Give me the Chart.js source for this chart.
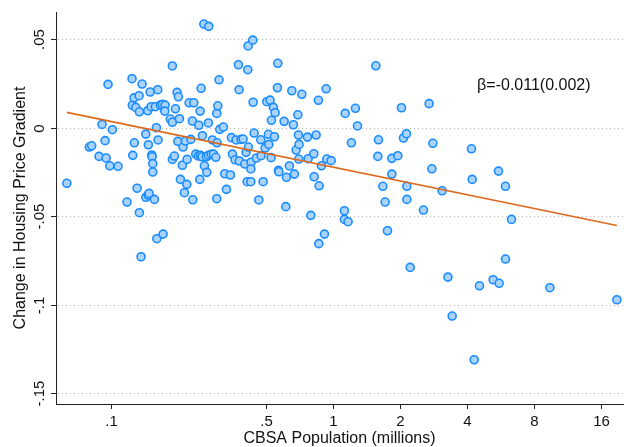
<!DOCTYPE html>
<html>
<head>
<meta charset="utf-8">
<script src="https://cdn.jsdelivr.net/npm/chart.js@4.4.1/dist/chart.umd.min.js"></script>
<style>
    html, body { margin: 0; padding: 0; background: #fff; overflow: hidden; }
    #wrap { width: 624px; height: 447px; }
</style>
</head>
<body>
<div id="wrap"><canvas id="gradient-chart" width="624" height="447"></canvas></div>
<script>
// CBSA population (millions) and change in housing price gradient, one entry per CBSA
const popMillions = [0.0632, 0.0798, 0.0818, 0.0883, 0.0911, 0.0940, 0.0950, 0.0969, 0.0987, 0.1014,
    0.1075, 0.1180, 0.1243, 0.1247, 0.1252, 0.1269, 0.1273, 0.1292, 0.1310, 0.1337,
    0.1341, 0.1341, 0.1379, 0.1433, 0.1433, 0.1468, 0.1483, 0.1567, 0.1463, 0.1472,
    0.1499, 0.1514, 0.1525, 0.1530, 0.1541, 0.1541, 0.1583, 0.1600, 0.1623, 0.1628,
    0.1668, 0.1703, 0.1751, 0.1745, 0.1849, 0.1888, 0.1888, 0.1888, 0.1928, 0.1949,
    0.1983, 0.2010, 0.1998, 0.2031, 0.2052, 0.2095, 0.2110, 0.2139, 0.2161, 0.2193,
    0.2200, 0.2246, 0.2358, 0.2286, 0.2324, 0.2333, 0.2407, 0.2483, 0.2509, 0.2518,
    0.2544, 0.2472, 0.2526, 0.2570, 0.2578, 0.2632, 0.2616, 0.2755, 0.2687, 0.2743,
    0.2822, 0.2890, 0.2963, 0.2698, 0.2743, 0.2860, 0.2993, 0.2993, 0.3002, 0.3024,
    0.3065, 0.3087, 0.3205, 0.3252, 0.3447, 0.3307, 0.3483, 0.3519, 0.3619, 0.3783,
    0.3657, 0.3745, 0.3772, 0.3851, 0.3932, 0.4002, 0.4055, 0.4099, 0.4259, 0.4128,
    0.4141, 0.4347, 0.4154, 0.4271, 0.4259, 0.4362, 0.4407, 0.4513, 0.4626, 0.4723,
    0.4739, 0.4838, 0.4939, 0.5027, 0.5201, 0.5111, 0.5133, 0.5256, 0.5383, 0.5479,
    0.5273, 0.5440, 0.5636, 0.5612, 0.5671, 0.5695, 0.6017, 0.6123, 0.6161, 0.6355,
    0.6516, 0.6625, 0.6694, 0.6813, 0.6934, 0.6977, 0.7027, 0.7005, 0.7228, 0.7661,
    0.7718, 0.7934, 0.8187, 0.8211, 0.8384, 0.8585, 0.8648,
    0.1365, 0.1607, 0.1715, 0.8620, 0.9138, 1.757, 2.223, 3.287, 3.436, 4.317,
    4.560, 5.256, 5.594, 5.972, 9.465, 18.96,
    1.557, 0.9300, 1.133, 1.260, 1.287, 2.031, 2.706, 0.9368, 0.9795, 0.8857,
    1.124, 1.124, 1.168, 1.209, 1.600, 1.590, 1.838, 1.956, 2.074, 2.139,
    1.838, 1.675, 2.148, 1.715, 2.148, 2.551, 2.813, 2.784, 3.097, 4.198,
    4.228, 5.554, 5.972, 6.357];

const gradientChange = [-0.0314, -0.0109, -0.0102, -0.0162, 0.0019, -0.0073, -0.0171, 0.0245, -0.0215, -0.0011,
    -0.0218, -0.0420, 0.0277, 0.0127, -0.0156, 0.0169, -0.0085, 0.0115, -0.0342, 0.0181,
    0.0090, -0.0480, 0.0247, -0.0036, -0.0393, -0.0380, -0.0371, -0.0405, 0.0096, -0.0096,
    0.0202, 0.0119, -0.0154, -0.0164, -0.0203, -0.0250, 0.0119, 0.0000, 0.0215, -0.0069,
    0.0128, 0.0132, 0.0128, 0.0094, 0.0049, 0.0349, 0.0031, -0.0179, -0.0160, 0.0107,
    0.0200, 0.0175, -0.0077, 0.0051, -0.0292, -0.0212, -0.0109, -0.0367, -0.0075, -0.0320,
    -0.0179, 0.0141, 0.0141, -0.0066, 0.0038, -0.0407, -0.0149, 0.0014, -0.0292, 0.0094,
    0.0223, -0.0160, -0.0156, -0.0164, -0.0045, -0.0215, 0.0586, 0.0573, -0.0164, -0.0156,
    -0.0150, -0.0149, -0.0167, -0.0252, 0.0027, -0.0069, -0.0401, 0.0081, -0.0085, 0.0124,
    0.0271, -0.0009, 0.0004, -0.0260, -0.0267, -0.0348, -0.0056, -0.0149, -0.0181, -0.0188,
    -0.0069, 0.0356, 0.0215, -0.0066, -0.0064, -0.0205, -0.0139, -0.0305, -0.0305, 0.0328,
    0.0462, 0.0495, -0.0109, -0.0195, -0.0233, 0.0144, -0.0030, -0.0171, -0.0408, -0.0068,
    -0.0158, -0.0305, -0.0115, 0.0147, 0.0156, -0.0037, -0.0094, -0.0169, 0.0115, 0.0085,
    0.0042, -0.0051, 0.0364, 0.0226, -0.0241, -0.0249, 0.0036, -0.0446, -0.0280, -0.0216,
    0.0209, 0.0017, -0.0262, -0.0126, 0.0073, -0.0041, -0.0094, -0.0177, 0.0189, -0.0053,
    -0.0175, -0.0495, -0.0147, -0.0277, -0.0041, 0.0155, -0.0328,
    -0.0729, -0.0627, -0.0601, -0.0655, -0.0601, -0.0582, -0.0789, -0.0844, -0.1064, -0.1311,
    -0.0893, -0.0859, -0.0879, -0.0742, -0.0904, -0.0972,
    0.0350, 0.0220, 0.0081, 0.0110, 0.0010, 0.0113, 0.0136, -0.0177, -0.0186, -0.0215,
    -0.0469, -0.0518, -0.0531, -0.0085, -0.0068, -0.0162, -0.0173, -0.0158, -0.0058, -0.0034,
    -0.0262, -0.0331, -0.0331, -0.0420, -0.0405, -0.0465, -0.0088, -0.0232, -0.0356, -0.0119,
    -0.0292, -0.0245, -0.0331, -0.0518];

// linear fit (on log population), endpoints
const fitPop = [0.0632, 18.96];
const fitChange = [0.0087, -0.0552];

const xTicks = [0.1, 0.5, 1, 2, 4, 8, 16];
const xTickLabels = ['.1', '.5', '1', '2', '4', '8', '16'];
const yTicks = [0.05, 0, -0.05, -0.1, -0.15];
const yTickLabels = ['.05', '0', '-.05', '-.1', '-.15'];

const betaText = 'β=-0.011(0.002)';
const betaPos = [4.45, 0.024];

const FONT = '"Liberation Sans", Arial, Helvetica, sans-serif';

// Stata-like axes: rotated y labels, outside ticks, dotted grid
const stataAxes = {
    id: 'stataAxes',
    beforeDatasetsDraw(chart) {
        const { ctx, chartArea: a, scales: { y } } = chart;
        ctx.save();
        ctx.strokeStyle = '#b4b4b4';
        ctx.lineWidth = 1;
        ctx.setLineDash([1, 3]);
        yTicks.forEach(v => {
            const py = Math.round(y.getPixelForValue(v)) + 0.5;
            ctx.beginPath();
            ctx.moveTo(a.left + 2, py);
            ctx.lineTo(a.right, py);
            ctx.stroke();
        });
        ctx.restore();
    },
    afterDraw(chart) {
        const { ctx, chartArea: a, scales: { x, y } } = chart;
        ctx.save();
        ctx.strokeStyle = '#222';
        ctx.lineWidth = 1;
        ctx.fillStyle = '#111';

        // y ticks + labels
        ctx.font = '15px ' + FONT;
        yTicks.forEach((v, i) => {
            const py = Math.round(y.getPixelForValue(v)) + 0.5;
            ctx.beginPath();
            ctx.moveTo(a.left - 5, py);
            ctx.lineTo(a.left, py);
            ctx.stroke();
            ctx.save();
            ctx.translate(a.left - 12, py);
            ctx.rotate(-Math.PI / 2);
            ctx.textAlign = 'center';
            ctx.textBaseline = 'alphabetic';
            ctx.fillText(yTickLabels[i], 0, 0);
            ctx.restore();
        });

        // x ticks + labels
        xTicks.forEach((v, i) => {
            const px = Math.round(x.getPixelForValue(v)) + 0.5;
            ctx.beginPath();
            ctx.moveTo(px, a.bottom);
            ctx.lineTo(px, a.bottom + 5);
            ctx.stroke();
            ctx.textAlign = 'center';
            ctx.textBaseline = 'alphabetic';
            ctx.fillText(xTickLabels[i], px, a.bottom + 22);
        });

        // axis titles
        ctx.font = '16px ' + FONT;
        ctx.textAlign = 'center';
        ctx.fillText('CBSA Population (millions)', (a.left + a.right) / 2, 443);
        ctx.save();
        ctx.translate(25, (a.top + a.bottom) / 2);
        ctx.rotate(-Math.PI / 2);
        ctx.fillText('Change in Housing Price Gradient', 0, 0);
        ctx.restore();

        // coefficient note
        ctx.textAlign = 'left';
        ctx.textBaseline = 'middle';
        ctx.fillText(betaText, x.getPixelForValue(betaPos[0]), y.getPixelForValue(betaPos[1]));
        ctx.restore();
    }
};

const points = popMillions.map((p, i) => ({ x: p, y: gradientChange[i] }));
const fitLine = fitPop.map((p, i) => ({ x: p, y: fitChange[i] }));

new Chart(document.getElementById('gradient-chart'), {
    type: 'scatter',
    data: {
        datasets: [
            {
                type: 'line',
                data: fitLine,
                borderColor: '#dd6a1c',
                borderWidth: 1.6,
                pointRadius: 0,
                fill: false
            },
            {
                data: points,
                backgroundColor: '#a9d3fc',
                borderColor: '#1a8cff',
                borderWidth: 1.6,
                pointRadius: 4,
                pointHoverRadius: 4
            }
        ]
    },
    options: {
        responsive: false,
        animation: false,
        events: [],
        layout: {
            autoPadding: false,
            padding: { left: 56, top: 12, right: 1, bottom: 43 }
        },
        plugins: {
            legend: { display: false },
            tooltip: { enabled: false }
        },
        scales: {
            x: {
                type: 'logarithmic',
                min: 0.0565,
                max: 20.2,
                afterBuildTicks: s => { s.ticks = xTicks.map(v => ({ value: v })); },
                ticks: { display: false },
                grid: { display: false, drawTicks: false },
                border: { display: true, color: '#222', width: 1 },
                title: { display: false }
            },
            y: {
                type: 'linear',
                min: -0.1561,
                max: 0.0654,
                afterBuildTicks: s => { s.ticks = yTicks.map(v => ({ value: v })); },
                ticks: { display: false },
                grid: { display: false, drawTicks: false },
                border: { display: true, color: '#222', width: 1 },
                title: { display: false }
            }
        }
    },
    plugins: [stataAxes]
});
</script>
</body>
</html>
